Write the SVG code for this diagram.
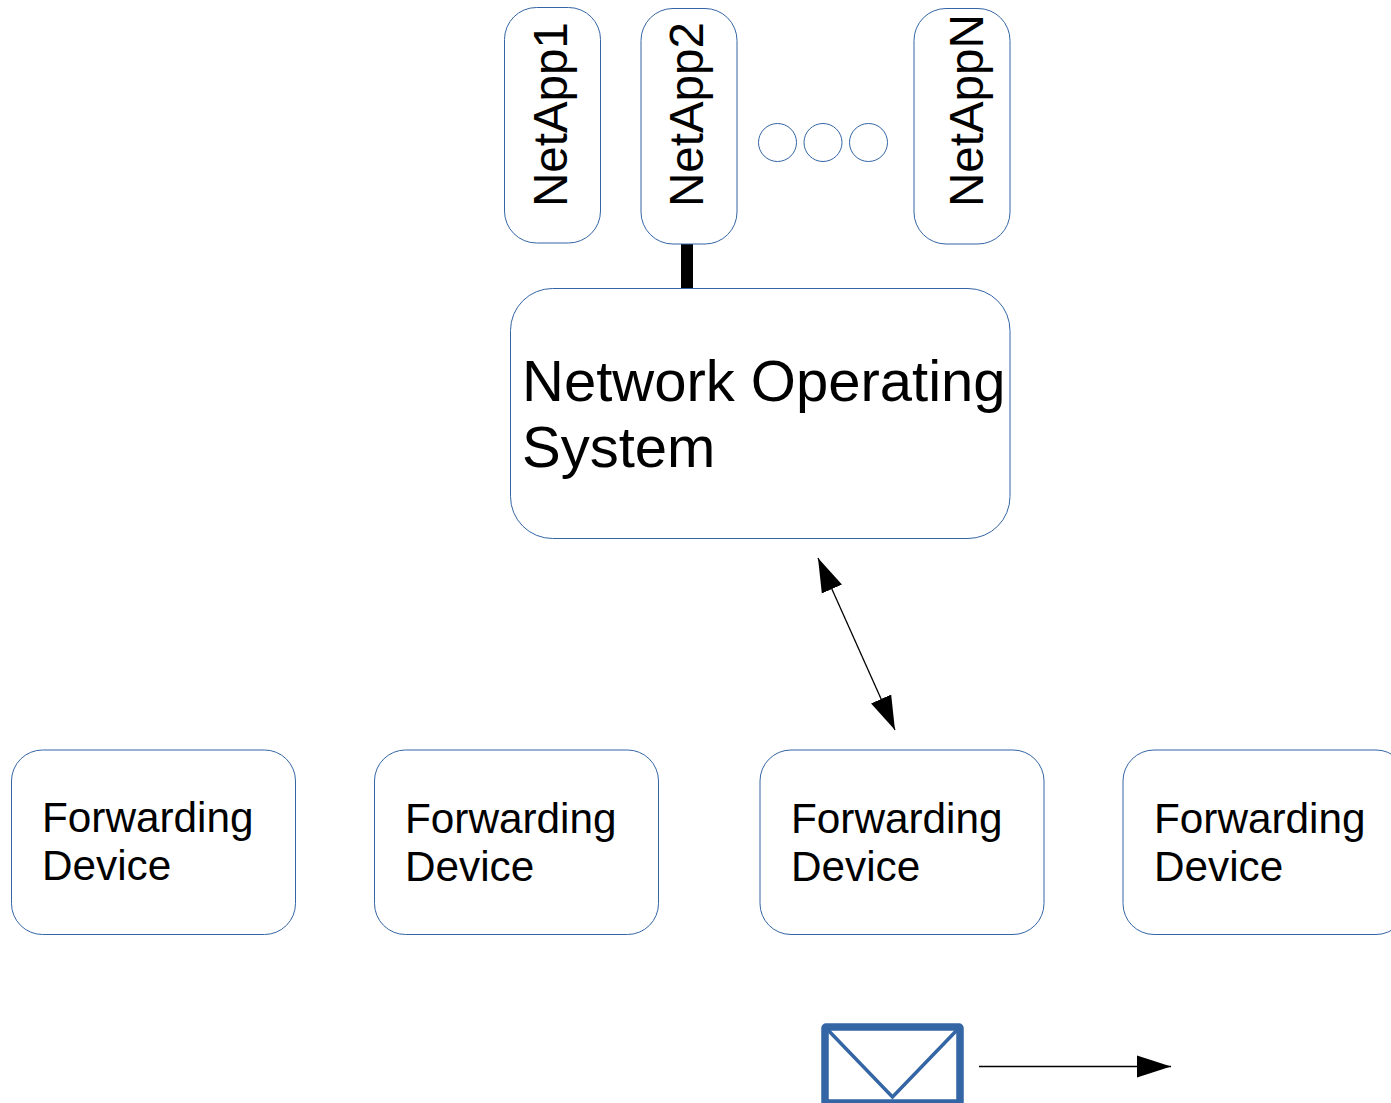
<svg xmlns="http://www.w3.org/2000/svg" width="1391" height="1103" viewBox="0 0 1391 1103">
<style>
.box{fill:#fff;stroke:#3465a4;stroke-width:1}
text{font-family:"Liberation Sans",Arial,sans-serif;fill:#000}
.app{font-size:47.5px}
.fd{font-size:42.3px}
.nos{font-size:58px}
.env{fill:none;stroke:#3465a4}
.line{stroke:#000;stroke-width:1.3;fill:none}
</style>
<defs>
<marker id="ah" markerUnits="userSpaceOnUse" markerWidth="36" markerHeight="24" refX="34" refY="12" orient="auto-start-reverse"><path d="M0 1 L34 12 L0 23 Z" fill="#000"/></marker>
</defs>
<g id="connectors">
<line x1="687" y1="244" x2="687" y2="288.500" stroke="#000" stroke-width="12"/>
<line class="line" x1="818" y1="558" x2="895" y2="730" marker-start="url(#ah)" marker-end="url(#ah)"/>
<line class="line" x1="979" y1="1066.500" x2="1171" y2="1066.500" marker-end="url(#ah)"/>
</g>
<g id="netapp1"><rect class="box" x="504.500" y="7.500" width="96" height="235.500" rx="32" ry="32"/><text class="app" transform="translate(567 207) rotate(-90)">NetApp1</text></g>
<g id="netapp2"><rect class="box" x="641" y="8.500" width="96" height="235.500" rx="32" ry="32"/><text class="app" transform="translate(703 207) rotate(-90)">NetApp2</text></g>
<g id="netappn"><rect class="box" x="914" y="8.500" width="96" height="235.500" rx="32" ry="32"/><text class="app" transform="translate(983 207) rotate(-90)">NetAppN</text></g>
<g id="dot1"><circle class="box" cx="777.500" cy="142.500" r="19"/></g>
<g id="dot2"><circle class="box" cx="823" cy="142.500" r="19"/></g>
<g id="dot3"><circle class="box" cx="868.500" cy="142.500" r="19"/></g>
<g id="nos"><rect class="box" x="510.500" y="288.500" width="499.500" height="250" rx="42" ry="42"/><text class="nos" x="522" y="401">Network Operating</text><text class="nos" x="522" y="467">System</text></g>
<g id="fd1"><rect class="box" x="11.500" y="750" width="284" height="184.500" rx="31" ry="31"/><text class="fd" x="42" y="832">Forwarding</text><text class="fd" x="42" y="880">Device</text></g>
<g id="fd2"><rect class="box" x="374.500" y="750" width="284" height="184.500" rx="31" ry="31"/><text class="fd" x="405" y="833">Forwarding</text><text class="fd" x="405" y="881">Device</text></g>
<g id="fd3"><rect class="box" x="760" y="750" width="284" height="184.500" rx="31" ry="31"/><text class="fd" x="791" y="833">Forwarding</text><text class="fd" x="791" y="881">Device</text></g>
<g id="fd4"><rect class="box" x="1123" y="750" width="284" height="184.500" rx="31" ry="31"/><text class="fd" x="1154" y="833">Forwarding</text><text class="fd" x="1154" y="881">Device</text></g>
<g id="message"><rect class="env" x="825" y="1027" width="135" height="76" rx="1" stroke-width="7.500"/><path class="env" stroke-width="3.500" d="M827 1029 L892.500 1097 L958 1029"/></g>
</svg>
